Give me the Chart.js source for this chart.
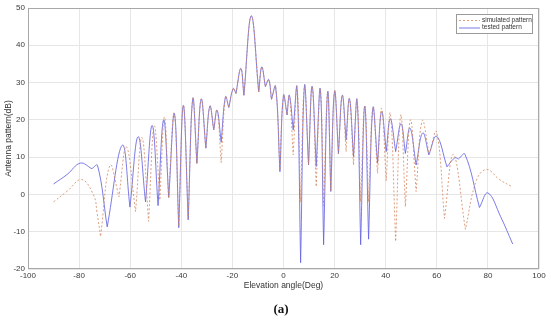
<!DOCTYPE html>
<html>
<head>
<meta charset="utf-8">
<script src="https://cdn.jsdelivr.net/npm/chart.js@4.4.0/dist/chart.umd.min.js"></script>
<style>
  html, body { margin: 0; padding: 0; background: #fff; }
  #wrap { position: relative; width: 550px; height: 322px; }
  #caption {
    position: absolute; left: 0; width: 562px; top: 301px;
    text-align: center; font: bold 13px "Liberation Serif", "DejaVu Serif", serif; color: #111;
  }
</style>
</head>
<body>
<div id="wrap">
  <canvas id="pattern-chart" width="550" height="322"></canvas>
  <div id="caption">(a)</div>
</div>
<script>
// Simulated pattern (dashed), elevation angle in degrees / level in dB
const simAngle = [-90, -84.6, -79, -74.2, -73, -71.6, -67.9, -64.4, -61.5, -57.9, -55.4, -52.8, -50.6, -48.4, -46.6, -45.0,
  -42.8, -41.0, -39.2, -37.3, -35.5, -33.9, -32.2, -30.4, -28.8, -27.3, -26.0, -24.4, -22.7, -21.4, -19.7, -18.6,
  -16.7, -15.5, -12.6, -9.7, -8.5, -7.1, -5.8, -4.7, -3.1, -1.4, 0, 1.4, 2.3, 3.8, 5.3, 6.7, 8.2, 9.8, 11.2, 12.8,
  14.4, 15.7, 17.3, 18.5, 20.0, 21.5, 23.0, 24.5, 25.8, 27.4, 28.8, 30.2, 31.8, 33.3, 35.0, 36.8, 38.4, 40.2, 41.8,
  43.9, 45.9, 47.7, 49.7, 51.9, 54.3, 57.0, 59.9, 63.0, 66.5, 71.2, 75.5, 79.5, 84.5, 89.3];
const simLevel = [-2.0, 0.9, 4.0, -0.4, -4.8, -11.3, 7.8, -0.6, 12.8, -4.6, 15.3, -7.2, 18.3, -1.5, 20.8, -1.0,
  21.8, -8.5, 23.9, -6.5, 25.7, 8.2, 25.6, 12.4, 23.7, 17.3, 22.6, 8.5, 26.2, 23.3, 28.4, 27.1,
  33.8, 26.6, 47.9, 27.5, 34.2, 28.9, 30.8, 25.5, 29.0, 6.5, 26.6, 21.3, 26.6, 10.6, 28.7, -2, 29.1, 8, 29.0, 2.1,
  28.2, -3, 27.5, 1.0, 27.7, 11.0, 26.6, 11.5, 25.7, 7.9, 25.3, -2, 23.7, -2, 23.2, 5.7, 23.1, 3.7, 21.7,
  -12.6, 21.3, -3.3, 20.0, 0.8, 19.8, 10.8, 16.8, -6.4, 10.7, -9.4, 3.8, 6.7, 4.0, 2.1];

// Tested pattern (solid)
const testAngle = [-90, -84.6, -79.5, -75, -72.8, -69.0, -63.1, -60.1, -56.9, -54.0, -51.4, -49.1, -46.9, -44.9, -42.7,
  -41.0, -39.2, -37.3, -35.5, -33.9, -32.2, -30.4, -28.8, -27.3, -26.0, -24.4, -22.7, -21.4, -19.7, -18.6, -16.7,
  -15.5, -12.6, -9.7, -8.5, -7.1, -5.8, -4.7, -3.1, -1.4, 0, 1.4, 2.3, 3.8, 5.3, 6.7, 8.2, 9.8, 11.2, 12.8, 14.4,
  15.7, 17.3, 18.5, 20.0, 21.5, 23.0, 24.5, 25.8, 27.4, 28.8, 30.2, 31.8, 33.3, 35.0, 36.8, 38.4, 40.2, 41.8, 43.9,
  46.0, 47.7, 49.5, 51.9, 54.5, 56.9, 59.9, 64.0, 67.0, 68.5, 71.0, 76.7, 80.0, 85.0, 89.7];
const testLevel = [2.8, 5.4, 8.4, 6.9, 7.8, -8.7, 13.2, -3.4, 15.5, -2.0, 18.5, -3.0, 20.0, -0.8, 21.7,
  -8.9, 23.9, -6.8, 25.7, 8.4, 25.6, 12.4, 23.7, 17.3, 22.6, 14.0, 26.2, 23.3, 28.4, 27.1, 33.8,
  26.6, 47.9, 27.5, 34.2, 28.9, 30.8, 25.5, 29.0, 6.1, 26.6, 21.3, 26.6, 17.3, 28.7, -18.3, 29.1, 7.9, 29.0, 7.5, 28.2,
  -13.5, 27.5, 0.8, 27.7, 10.9, 26.6, 14.6, 25.7, 10.1, 25.3, -13.5, 23.7, -12.0, 23.2, 8.4, 22.2, 11.5, 20.3, 11.5,
  19.0, 11.0, 17.8, 7.9, 16.5, 10.6, 15.6, 7.4, 9.8, 9.5, 10.8, -3.5, 0.4, -6.0, -13.3];

const seriesNames = ['simulated pattern', 'tested pattern'];
const simColor = 'rgba(212, 135, 95, 0.8)';
const testColor = 'rgba(100, 100, 228, 0.85)';
const fontFamily = '"Liberation Sans", Arial, sans-serif';

// Build {x, y} points. Each null (local minimum) is given twice so the
// spline keeps a sharp notch there instead of a rounded trough.
const toPoints = (xs, ys) => {
  const pts = [];
  xs.forEach((x, i) => {
    pts.push({ x: x, y: ys[i] });
    const isNull = i > 0 && i < xs.length - 1 && ys[i] < ys[i - 1] && ys[i] < ys[i + 1];
    if (isNull) pts.push({ x: x, y: ys[i] });
  });
  return pts;
};

// Box around the plot area plus a MATLAB-like legend inside it
const framePlugin = {
  id: 'frame',
  afterDatasetsDraw(chart) {
    const { ctx, chartArea: a } = chart;
    ctx.save();
    ctx.strokeStyle = '#a8a8a8';
    ctx.lineWidth = 1;
    ctx.strokeRect(a.left + 0.5, a.top + 0.5, a.right - a.left - 1, a.bottom - a.top - 1);

    // legend box
    const bx = a.right - 83, by = a.top + 6, bw = 76, bh = 19;
    ctx.fillStyle = '#fff';
    ctx.fillRect(bx, by, bw, bh);
    ctx.strokeStyle = '#9a9a9a';
    ctx.strokeRect(bx + 0.5, by + 0.5, bw, bh);

    const rows = [
      { label: seriesNames[0], color: simColor, dash: [2, 2] },
      { label: seriesNames[1], color: testColor, dash: [] }
    ];
    ctx.font = '6.5px ' + fontFamily;
    ctx.textBaseline = 'middle';
    rows.forEach((r, i) => {
      const y = by + 6 + i * 7.5;
      ctx.beginPath();
      ctx.setLineDash(r.dash);
      ctx.strokeStyle = r.color;
      ctx.moveTo(bx + 3, y + 0.5);
      ctx.lineTo(bx + 24, y + 0.5);
      ctx.stroke();
      ctx.setLineDash([]);
      ctx.fillStyle = '#333';
      ctx.fillText(r.label, bx + 26, y);
    });
    ctx.restore();
  }
};

const ctx = document.getElementById('pattern-chart');

new Chart(ctx, {
  type: 'line',
  data: {
    datasets: [
      {
        label: seriesNames[0],
        data: toPoints(simAngle, simLevel),
        borderColor: simColor,
        borderWidth: 1,
        borderDash: [2, 2],
        pointRadius: 0,
        tension: 0.4,
        fill: false
      },
      {
        label: seriesNames[1],
        data: toPoints(testAngle, testLevel),
        borderColor: testColor,
        borderWidth: 1,
        pointRadius: 0,
        tension: 0.4,
        fill: false
      }
    ]
  },
  options: {
    responsive: false,
    animation: false,
    layout: { padding: { top: 8, right: 11, bottom: 31, left: 0 } },
    scales: {
      x: {
        type: 'linear',
        min: -100,
        max: 100,
        ticks: {
          stepSize: 20,
          padding: 2,
          maxRotation: 0,
          color: '#3a3a3a',
          font: { family: fontFamily, size: 8 }
        },
        grid: { color: '#e6e6e6', drawTicks: false },
        border: { display: false },
        title: {
          display: true,
          text: 'Elevation angle(Deg)',
          color: '#333',
          font: { family: fontFamily, size: 8.5 },
          padding: { top: 1, bottom: 0 }
        },
        afterFit: (scale) => { scale.height = 22; }
      },
      y: {
        min: -20,
        max: 50,
        ticks: {
          stepSize: 10,
          padding: 3,
          color: '#3a3a3a',
          font: { family: fontFamily, size: 8 }
        },
        grid: { color: '#e6e6e6', drawTicks: false },
        border: { display: false },
        title: {
          display: true,
          text: 'Antenna pattern(dB)',
          color: '#333',
          font: { family: fontFamily, size: 8.5 },
          padding: { top: 4, bottom: 0 }
        },
        afterFit: (scale) => { scale.width = 28; }
      }
    },
    plugins: {
      legend: { display: false },
      tooltip: { enabled: false }
    }
  },
  plugins: [framePlugin]
});
</script>
</body>
</html>
